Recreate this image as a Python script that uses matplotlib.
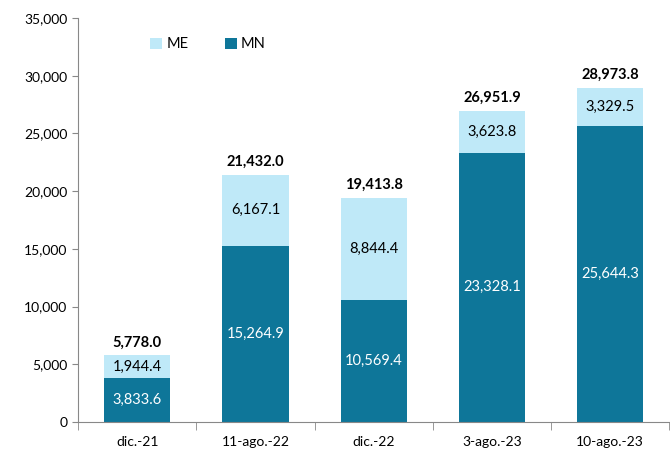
import matplotlib
matplotlib.use("Agg")
import matplotlib.pyplot as plt
import numpy as np

categories = ["dic.-21", "11-ago.-22", "dic.-22", "3-ago.-23", "10-ago.-23"]
mn = [3833.6, 15264.9, 10569.4, 23328.1, 25644.3]
me = [1944.4, 6167.1, 8844.4, 3623.8, 3329.5]
totals = [5778.0, 21432.0, 19413.8, 26951.9, 28973.8]

plt.rcParams['font.family'] = ['Lato', 'DejaVu Sans']
c_mn = "#0E7699"
c_me = "#BFE9F8"

fig = plt.figure(figsize=(6.7, 4.55), dpi=100)
ax = fig.add_axes([78/670, 33/455, (670-78)/670 - 0.001, (422-18)/455])
x = np.arange(len(categories))
w = 0.56
ax.bar(x, mn, w, color=c_mn, label="MN", zorder=2)
ax.bar(x, me, w, bottom=mn, color=c_me, label="ME", zorder=2)

for i in range(len(x)):
    ax.text(x[i], mn[i]/2, f"{mn[i]:,.1f}", ha="center", va="center", color="white", fontsize=10.5)
    ax.text(x[i], mn[i] + me[i]/2, f"{me[i]:,.1f}", ha="center", va="center", color="black", fontsize=10.5)
    ax.text(x[i], totals[i] + 500, f"{totals[i]:,.1f}", ha="center", va="bottom", color="black", fontsize=10.5, fontweight="bold")

ax.set_xlim(-0.5, len(x) - 0.5)
ax.set_ylim(0, 35000)
ax.set_yticks(np.arange(0, 35001, 5000))
ax.set_yticklabels([f"{v:,}" for v in range(0, 35001, 5000)], fontsize=10)
ax.set_xticks(x)
ax.set_xticklabels(categories, fontsize=10)
ax.tick_params(axis="x", length=0, pad=10)
ax.set_xticks(np.arange(-0.5, len(x), 1), minor=True)
ax.tick_params(axis="x", which="minor", length=6, color="#888888")
ax.tick_params(axis="y", length=4, color="#888888")
for s in ["top", "right"]:
    ax.spines[s].set_visible(False)
for s in ["left", "bottom"]:
    ax.spines[s].set_color("#888888")

h, l = ax.get_legend_handles_labels()
ax.legend(h[::-1], l[::-1], loc="upper left", bbox_to_anchor=(0.1, 0.985), ncol=2, frameon=False,
          fontsize=10.5, handlelength=0.8, handleheight=0.8, columnspacing=2.5, handletextpad=0.3)

fig.savefig("out.png", dpi=100)
